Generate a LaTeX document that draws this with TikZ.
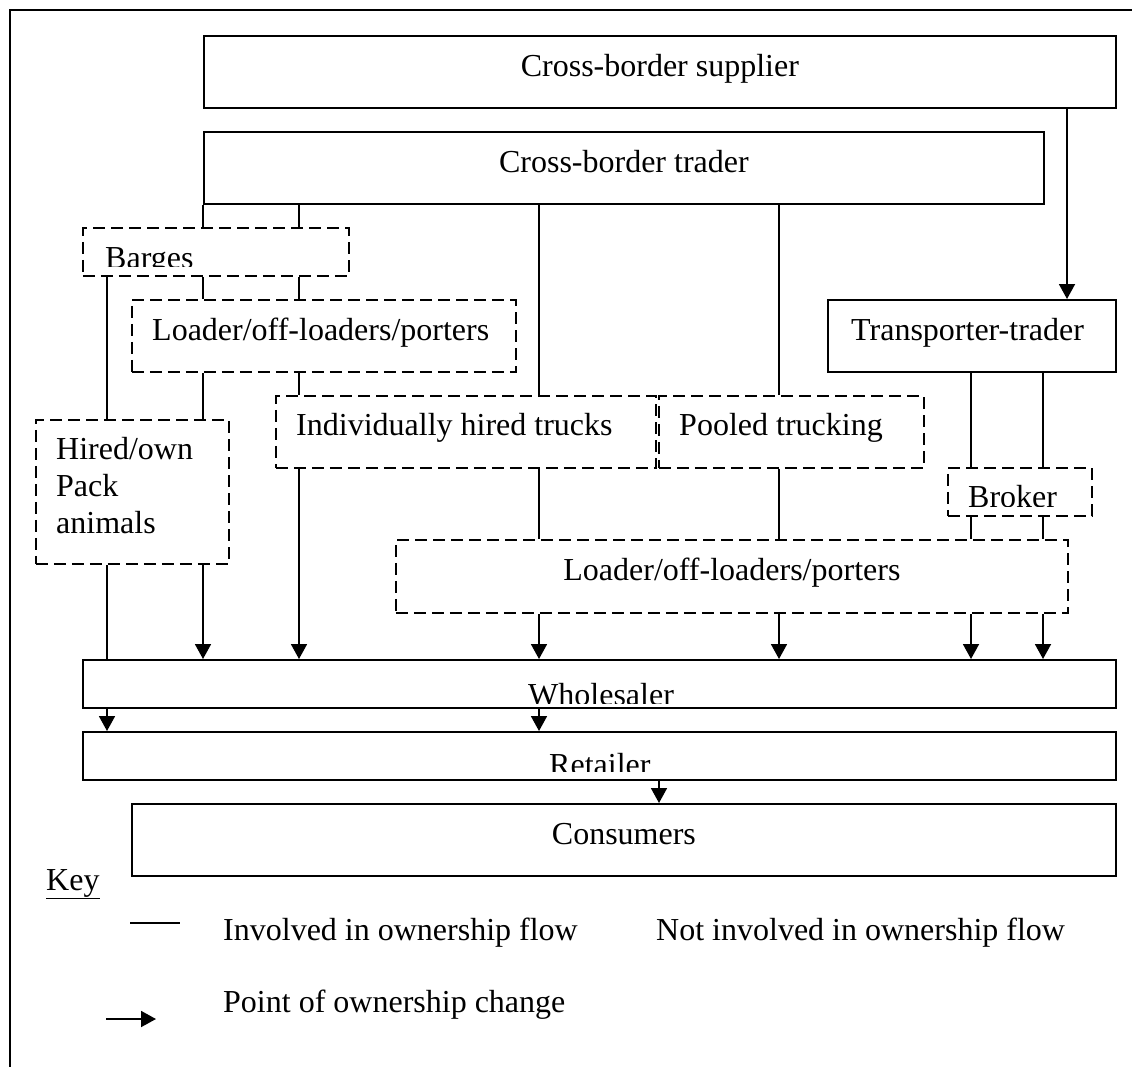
\documentclass[tikz,border=0pt]{standalone}
\usepackage{fontspec}
\setmainfont{Liberation Serif}
\usetikzlibrary{arrows.meta}
\begin{document}
\begin{tikzpicture}[x=1pt,y=-1pt,
  solidbox/.style={draw, line width=1.8pt, inner sep=0pt, anchor=north west},
  dashbox/.style={draw, line width=1.8pt, dash pattern=on 12pt off 6pt, inner sep=0pt, anchor=north west},
  lbl/.style={anchor=base west, inner sep=0pt, font=\fontsize{32}{37}\selectfont},
  clbl/.style={anchor=base, inner sep=0pt, font=\fontsize{32}{37}\selectfont},
  conn/.style={line width=1.8pt},
  arr/.style={conn, -{Triangle[width=16pt,length=15pt]}}]
\useasboundingbox (0,0) rectangle (1132,1066);
% outer frame
\draw[line width=2.6pt] (10,1080) -- (10,10) -- (1150,10);
% x positions
\coordinate (xa) at (107,0);
\coordinate (xb) at (203,0);
\coordinate (xc) at (299,0);
\coordinate (xd) at (539,0);
\coordinate (xe) at (779,0);
\coordinate (xf) at (971,0);
\coordinate (xg) at (1043,0);
\coordinate (xh) at (1067,0);
\coordinate (xi) at (659,0);
% boxes
\node[solidbox, minimum width=912pt, minimum height=72pt] (sup) at (203,35) {};
\node[solidbox, minimum width=840pt, minimum height=72pt] (trader) at (203,131) {};
\node[dashbox, minimum width=266pt, minimum height=48pt] (barges) at (82,227) {};
\node[dashbox, minimum width=384pt, minimum height=72pt] (load1) at (131,299) {};
\node[solidbox, minimum width=288pt, minimum height=72pt] (tt) at (827,299) {};
\node[dashbox, minimum width=193pt, minimum height=144pt] (hired) at (35,419) {};
\node[dashbox, minimum width=380pt, minimum height=72pt] (indiv) at (275,395) {};
\node[dashbox, minimum width=265pt, minimum height=72pt] (pooled) at (658,395) {};
\node[dashbox, minimum width=144pt, minimum height=48pt] (broker) at (947,467) {};
\node[dashbox, minimum width=672pt, minimum height=73pt] (load2) at (395,539) {};
\node[solidbox, minimum width=1033pt, minimum height=48pt] (whole) at (82,659) {};
\node[solidbox, minimum width=1033pt, minimum height=48pt] (retail) at (82,731) {};
\node[solidbox, minimum width=984pt, minimum height=72pt] (cons) at (131,803) {};
% labels
\node[clbl] (suptxt) at (sup.center |- 0,76) {Cross-border supplier};
\node[clbl] (tradertxt) at (trader.center |- 0,172) {Cross-border trader};
\begin{scope}
\clip (barges.north west) rectangle ([yshift=10pt]barges.south east);
\node[lbl] (bargestxt) at (105,268) {Barges};
\end{scope}
\node[lbl] (load1txt) at (152,340) {Loader/off-loaders/porters};
\node[lbl] (tttxt) at (851,340) {Transporter-trader};
\node[lbl] (hiredtxt1) at (56,459) {Hired/own};
\node[lbl] (hiredtxt2) at (56,496) {Pack};
\node[lbl] (hiredtxt3) at (56,533) {animals};
\node[lbl] (indivtxt) at (296,435) {Individually hired trucks};
\node[lbl] (pooledtxt) at (679,435) {Pooled trucking};
\begin{scope}
\clip (broker.north west) rectangle ([yshift=10pt]broker.south east);
\node[lbl] (brokertxt) at (968,507) {Broker};
\end{scope}
\node[clbl] (load2txt) at (load2.center |- 0,580) {Loader/off-loaders/porters};
\begin{scope}
\clip (whole.north west) rectangle ([yshift=5pt]whole.south east);
\node[lbl] (wholetxt) at (528,705) {Wholesaler};
\end{scope}
\begin{scope}
\clip (retail.north west) rectangle ([yshift=9pt]retail.south east);
\node[lbl] (retailtxt) at (549,775) {Retailer};
\end{scope}
\node[clbl] (constxt) at (cons.center |- 0,844) {Consumers};
% connectors
\draw[arr] (sup.south -| xh) -- (tt.north -| xh);
\draw[conn] (trader.south -| xb) -- (barges.north -| xb);
\draw[conn] (trader.south -| xc) -- (barges.north -| xc);
\draw[conn] (trader.south -| xd) -- (indiv.north -| xd);
\draw[conn] (trader.south -| xe) -- (pooled.north -| xe);
\draw[conn] (barges.south -| xb) -- (load1.north -| xb);
\draw[conn] (barges.south -| xc) -- (load1.north -| xc);
\draw[conn] (barges.south -| xa) -- (hired.north -| xa);
\draw[conn] (load1.south -| xb) -- (hired.north -| xb);
\draw[conn] (load1.south -| xc) -- (indiv.north -| xc);
\draw[conn] (hired.south -| xa) -- (whole.north -| xa);
\draw[arr] (hired.south -| xb) -- (whole.north -| xb);
\draw[arr] (indiv.south -| xc) -- (whole.north -| xc);
\draw[conn] (indiv.south -| xd) -- (load2.north -| xd);
\draw[conn] (pooled.south -| xe) -- (load2.north -| xe);
\draw[conn] (tt.south -| xf) -- (broker.north -| xf);
\draw[conn] (tt.south -| xg) -- (broker.north -| xg);
\draw[conn] (broker.south -| xf) -- (load2.north -| xf);
\draw[conn] (broker.south -| xg) -- (load2.north -| xg);
\draw[arr] (load2.south -| xd) -- (whole.north -| xd);
\draw[arr] (load2.south -| xe) -- (whole.north -| xe);
\draw[arr] (load2.south -| xf) -- (whole.north -| xf);
\draw[arr] (load2.south -| xg) -- (whole.north -| xg);
\draw[arr] (whole.south -| xa) -- (retail.north -| xa);
\draw[arr] (whole.south -| xd) -- (retail.north -| xd);
\draw[arr] (retail.south -| xi) -- (cons.north -| xi);
% key
\node[lbl] (key) at (46,890) {\underline{Key}};
\coordinate (k1a) at (130,923);
\coordinate (k1b) at (180,923);
\draw[conn] (k1a) -- (k1b);
\node[lbl] (k1txt) at (223,940) {Involved in ownership flow};
\node[lbl] (k2txt) at (656,940) {Not involved in ownership flow};
\node[lbl] (k3txt) at (223,1012) {Point of ownership change};
\coordinate (k3a) at (106,1019);
\coordinate (k3b) at (156,1019);
\draw[arr] (k3a) -- (k3b);
\end{tikzpicture}
\end{document}
